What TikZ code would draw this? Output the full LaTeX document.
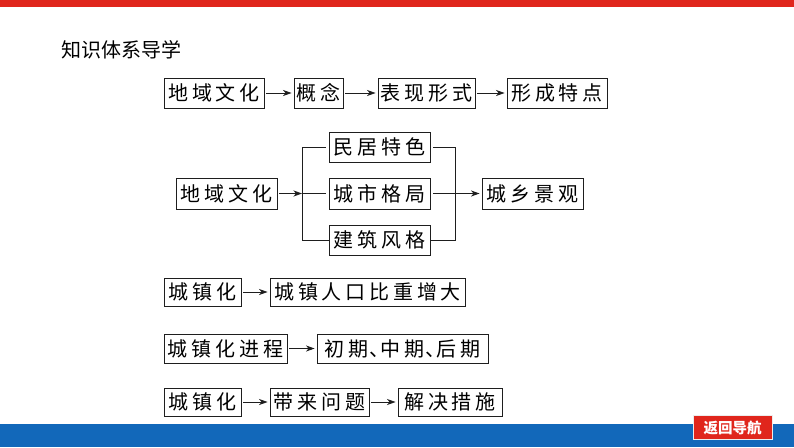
\documentclass[tikz,border=0pt]{standalone}
\usepackage{fontspec}
\usetikzlibrary{arrows.meta}
\newfontfamily\cjk{Noto Sans CJK SC}
\definecolor{barred}{RGB}{224,38,28}
\definecolor{barblue}{RGB}{18,104,186}
\definecolor{lncol}{RGB}{30,30,30}
\def\spaced#1{\spacedA#1\relax}
\def\spacedA#1{#1\spacedB}
\def\spacedB#1{\ifx\relax#1\else\hspace{3.8pt}#1\expandafter\spacedB\fi}
\newcommand\dun{\hspace{1pt}\makebox[11pt][l]{、}}
\tikzset{
  bx/.style={draw=lncol, line width=0.9pt, inner sep=0pt, minimum height=29pt, align=center, font=\cjk\fontsize{20pt}{20pt}\selectfont},
  arr/.style={draw=lncol, line width=0.8pt, -{Stealth[length=8.5pt,width=6pt,inset=2.5pt]}, shorten <=2pt, shorten >=2pt},
  ln/.style={draw=lncol, line width=0.8pt}
}
\begin{document}
\begin{tikzpicture}[x=1pt,y=-1pt]
\useasboundingbox (0,0) rectangle (794,447);
\fill[white] (0,0) rectangle (794,447);
\fill[barred] (0,0) rectangle (794,7);
\fill[barblue] (0,424) rectangle (794,447);
% title
\node[anchor=west, inner sep=0pt, font=\cjk\fontsize{20pt}{20pt}\selectfont] (title) at (61,50) {知识体系导学};
% row 1
\node[bx, minimum width=100pt, minimum height=30pt] (a1) at (214,93) {\spaced{地域文化}};
\node[bx, minimum width=49pt, minimum height=30pt] (a2) at (318.5,93) {\spaced{概念}};
\node[bx, minimum width=97pt, minimum height=30pt] (a3) at (426.5,93) {\spaced{表现形式}};
\node[bx, minimum width=100pt, minimum height=30pt] (a4) at (557,93) {\spaced{形成特点}};
\draw[arr] (a1) -- (a2);
\draw[arr] (a2) -- (a3);
\draw[arr] (a3) -- (a4);
% row 2
\node[bx, minimum width=101pt, minimum height=31pt] (b0) at (226.5,193.5) {\spaced{地域文化}};
\node[bx, minimum width=101pt, minimum height=30pt] (m1) at (379.5,147) {\spaced{民居特色}};
\node[bx, minimum width=101pt, minimum height=31pt] (m2) at (379.5,193.5) {\spaced{城市格局}};
\node[bx, minimum width=101pt, minimum height=30pt] (m3) at (379.5,240) {\spaced{建筑风格}};
\node[bx, minimum width=101pt, minimum height=31pt] (r) at (532.5,193.5) {\spaced{城乡景观}};
\coordinate (bl) at (302,193.5);
\coordinate (br) at (455,193.5);
\draw[arr, shorten >=0pt] (b0) -- (bl);
\draw[ln, shorten <=3pt] (m1.west) -- (m1.west -| bl) -- (m3.west -| bl) -- (m3.west);
\draw[ln, shorten >=3pt] (bl) -- (m2.west);
\draw[ln, shorten <=3pt] (m1.east) -- (m1.east -| br) -- (m3.east -| br) -- (m3.east);
\draw[ln, shorten <=3pt] (m2.east) -- (br);
\draw[arr, shorten <=0pt] (br) -- (r);
% row 3
\node[bx, minimum width=77pt, minimum height=28pt] (c1) at (202.5,292) {\spaced{城镇化}};
\node[bx, minimum width=195pt, minimum height=28pt] (c2) at (367.5,292) {\spaced{城镇人口比重增大}};
\draw[arr] (c1) -- (c2);
% row 4
\node[bx, minimum width=123pt, minimum height=29pt] (d1) at (225.5,348.5) {\spaced{城镇化进程}};
\node[bx, minimum width=171pt, minimum height=29pt] (d2) at (402.5,348.5) {初\hspace{3.8pt}期\dun 中\hspace{3.8pt}期\dun 后\hspace{3.8pt}期};
\draw[arr] (d1) -- (d2);
% row 5
\node[bx, minimum width=77pt, minimum height=28pt] (e1) at (202.5,402) {\spaced{城镇化}};
\node[bx, minimum width=99pt, minimum height=28pt] (e2) at (319.5,402) {\spaced{带来问题}};
\node[bx, minimum width=104pt, minimum height=28pt] (e3) at (450,402) {\spaced{解决措施}};
\draw[arr] (e1) -- (e2);
\draw[arr] (e2) -- (e3);
% button
\node[fill=barred, draw=white!85!gray, line width=0.8pt, minimum width=79pt, minimum height=24pt, inner sep=0pt, text=white, font=\cjk\bfseries\fontsize{14.5pt}{14.5pt}\selectfont] (btn) at (732.5,427.5) {返回导航};
\end{tikzpicture}
\end{document}
